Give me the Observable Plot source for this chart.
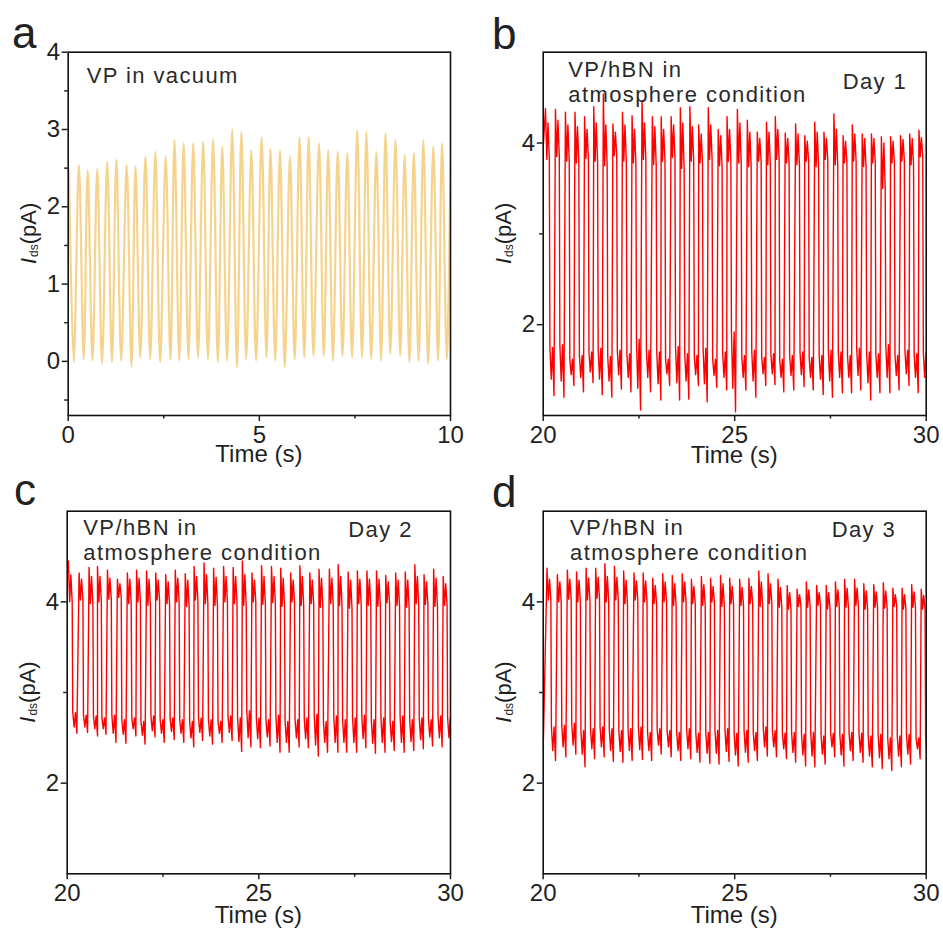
<!DOCTYPE html>
<html>
<head>
<meta charset="utf-8">
<script src="https://cdn.jsdelivr.net/npm/d3@7"></script>
<script src="https://cdn.jsdelivr.net/npm/@observablehq/plot@0.6"></script>
<style>
  html, body { margin: 0; padding: 0; background: #fff; }
  #root { position: relative; width: 943px; height: 928px; overflow: hidden; background: #fff; }
  .panel { position: absolute; }
</style>
</head>
<body>
<div id="root"></div>
<script>
// ---------- Panel a : VP in vacuum (per-cycle peak times, peaks, troughs) ----------
const aTime = [0.02, 0.28, 0.51, 0.76, 1.02, 1.26, 1.53, 1.76, 2.02, 2.28, 2.55, 2.78, 3.02, 3.27, 3.53, 3.79, 4.03, 4.29, 4.53, 4.79, 5.06, 5.29, 5.54, 5.80, 6.05, 6.29, 6.56, 6.80, 7.05, 7.30, 7.56, 7.80, 8.06, 8.30, 8.56, 8.80, 9.04, 9.29, 9.55, 9.78, 10.03];
const aPeak = [2.47, 2.54, 2.47, 2.49, 2.58, 2.61, 2.54, 2.52, 2.65, 2.71, 2.65, 2.86, 2.82, 2.82, 2.84, 2.87, 2.78, 3.00, 2.97, 2.73, 2.90, 2.75, 2.73, 2.65, 2.90, 2.90, 2.82, 2.73, 2.71, 2.69, 2.99, 2.97, 2.71, 2.95, 2.86, 2.67, 2.69, 2.86, 2.78, 2.82, 2.78];
const aTrough = [-0.01, 0.03, 0.01, -0.03, -0.01, 0.01, -0.07, 0.05, 0.03, -0.01, 0.02, 0.01, 0.03, 0.05, 0.03, -0.01, 0.01, -0.08, 0.03, 0.01, 0.05, 0.01, -0.07, 0.03, 0.05, 0.07, 0.07, 0.01, 0.07, 0.05, 0.05, 0.03, 0.01, 0.10, 0.07, -0.01, 0.01, -0.03, 0.01, 0.03, 0.05];

// ---------- Panel b : Day 1 ----------
const bLead = [20.0, 3.95];
const bTime = [20.06, 20.32, 20.58, 20.83, 21.08, 21.32, 21.57, 21.82, 22.07, 22.32, 22.58, 22.85, 23.08, 23.34, 23.58, 23.83, 24.06, 24.31, 24.57, 24.80, 25.07, 25.33, 25.59, 25.83, 26.06, 26.32, 26.59, 26.83, 27.09, 27.33, 27.59, 27.83, 28.07, 28.33, 28.57, 28.83, 29.07, 29.33, 29.57, 29.81];
const bPeak = [4.38, 4.37, 4.34, 4.34, 4.29, 4.40, 4.54, 4.21, 4.34, 4.30, 4.47, 4.29, 4.29, 4.29, 4.39, 4.40, 4.20, 4.39, 4.15, 4.29, 4.37, 4.25, 4.12, 4.23, 4.29, 4.11, 4.21, 4.08, 4.23, 4.12, 4.32, 4.08, 4.20, 4.10, 4.10, 4.07, 4.07, 4.08, 4.10, 4.14];
const bHiEnd = [3.82, 3.85, 3.80, 3.78, 3.83, 3.80, 3.75, 3.86, 3.80, 3.78, 3.82, 3.76, 3.80, 3.84, 3.72, 3.80, 3.78, 3.82, 3.75, 3.80, 3.78, 3.74, 3.80, 3.76, 3.82, 3.78, 3.76, 3.80, 3.74, 3.82, 3.76, 3.78, 3.80, 3.74, 3.78, 3.50, 3.78, 3.80, 3.76, 3.85];
const bHiRe = [4.22, 4.25, 4.20, 4.18, 4.15, 4.22, 4.20, 4.12, 4.20, 4.15, 4.22, 4.18, 4.15, 4.20, 4.22, 4.18, 4.10, 4.20, 4.08, 4.15, 4.22, 4.12, 4.05, 4.12, 4.15, 4.05, 4.10, 4.02, 4.12, 4.05, 4.15, 4.02, 4.10, 4.05, 4.05, 4.00, 4.02, 4.04, 4.05, 4.06];
const bLoTop = [1.75, 1.78, 1.62, 1.66, 1.70, 1.74, 1.65, 1.72, 1.68, 1.84, 1.72, 1.70, 1.62, 1.76, 1.68, 1.66, 1.74, 1.62, 1.70, 1.92, 1.66, 1.72, 1.64, 1.68, 1.62, 1.66, 1.70, 1.64, 1.66, 1.72, 1.70, 1.66, 1.74, 1.70, 1.68, 1.78, 1.66, 1.72, 1.68, 1.70];
const bLoRe = [1.40, 1.38, 1.45, 1.42, 1.48, 1.40, 1.38, 1.45, 1.42, 1.30, 1.42, 1.35, 1.46, 1.36, 1.38, 1.45, 1.35, 1.44, 1.42, 1.30, 1.42, 1.38, 1.46, 1.46, 1.42, 1.44, 1.45, 1.42, 1.40, 1.38, 1.42, 1.42, 1.44, 1.36, 1.42, 1.42, 1.44, 1.46, 1.42, 1.42];
const bTrough = [1.22, 1.20, 1.33, 1.26, 1.36, 1.23, 1.20, 1.29, 1.26, 1.06, 1.26, 1.17, 1.33, 1.17, 1.18, 1.33, 1.15, 1.31, 1.28, 1.04, 1.28, 1.20, 1.33, 1.34, 1.26, 1.28, 1.32, 1.28, 1.23, 1.20, 1.25, 1.25, 1.28, 1.17, 1.25, 1.25, 1.28, 1.33, 1.25, 1.25];

// ---------- Panel c : Day 2 ----------
const cLead = [20.0, 4.40];
const cTime = [20.03, 20.31, 20.57, 20.79, 21.05, 21.31, 21.57, 21.81, 22.07, 22.31, 22.57, 22.82, 23.08, 23.31, 23.57, 23.82, 24.08, 24.33, 24.57, 24.82, 25.07, 25.33, 25.57, 25.83, 26.07, 26.33, 26.57, 26.84, 27.07, 27.33, 27.57, 27.82, 28.07, 28.31, 28.57, 28.82, 29.07, 29.31, 29.56, 29.81];
const cPeak = [4.45, 4.32, 4.38, 4.39, 4.35, 4.25, 4.32, 4.35, 4.34, 4.32, 4.30, 4.35, 4.31, 4.39, 4.43, 4.37, 4.39, 4.38, 4.45, 4.32, 4.40, 4.39, 4.37, 4.32, 4.40, 4.32, 4.36, 4.36, 4.41, 4.33, 4.34, 4.34, 4.34, 4.29, 4.32, 4.33, 4.41, 4.30, 4.36, 4.28];
const cHiEnd = [4.00, 4.02, 3.98, 4.00, 4.03, 4.05, 3.98, 4.00, 3.96, 4.02, 3.98, 4.00, 3.95, 4.02, 3.98, 3.96, 4.00, 3.98, 3.96, 4.00, 3.97, 3.99, 3.95, 4.00, 3.96, 3.98, 3.94, 3.98, 3.96, 3.93, 3.98, 3.96, 3.95, 3.99, 3.96, 3.94, 3.98, 3.97, 3.95, 3.96];
const cHiRe = [4.30, 4.25, 4.28, 4.28, 4.26, 4.20, 4.25, 4.26, 4.25, 4.24, 4.22, 4.26, 4.24, 4.28, 4.30, 4.27, 4.28, 4.28, 4.30, 4.24, 4.28, 4.28, 4.26, 4.24, 4.28, 4.24, 4.26, 4.26, 4.28, 4.24, 4.25, 4.25, 4.25, 4.22, 4.24, 4.24, 4.28, 4.22, 4.26, 4.20];
const cLoTop = [2.78, 2.75, 2.74, 2.72, 2.75, 2.70, 2.72, 2.68, 2.74, 2.70, 2.72, 2.70, 2.68, 2.72, 2.70, 2.68, 2.74, 2.72, 2.80, 2.72, 2.70, 2.75, 2.68, 2.70, 2.72, 2.76, 2.68, 2.74, 2.70, 2.72, 2.75, 2.70, 2.72, 2.68, 2.74, 2.70, 2.72, 2.70, 2.74, 2.72];
const cLoRe = [2.62, 2.62, 2.60, 2.60, 2.55, 2.54, 2.60, 2.53, 2.58, 2.55, 2.57, 2.55, 2.50, 2.56, 2.52, 2.55, 2.56, 2.46, 2.50, 2.49, 2.51, 2.45, 2.45, 2.50, 2.49, 2.42, 2.45, 2.45, 2.45, 2.45, 2.49, 2.44, 2.45, 2.46, 2.45, 2.46, 2.48, 2.51, 2.50, 2.50];
const cTrough = [2.55, 2.56, 2.52, 2.54, 2.45, 2.44, 2.52, 2.43, 2.51, 2.45, 2.48, 2.45, 2.40, 2.47, 2.43, 2.45, 2.47, 2.35, 2.40, 2.39, 2.41, 2.34, 2.34, 2.40, 2.39, 2.30, 2.34, 2.34, 2.34, 2.34, 2.39, 2.33, 2.34, 2.36, 2.34, 2.36, 2.38, 2.41, 2.40, 2.40];

// ---------- Panel d : Day 3 ----------
const dLead = [20.0, 2.38];
const dTime = [20.10, 20.37, 20.63, 20.87, 21.12, 21.37, 21.61, 21.86, 22.10, 22.37, 22.61, 22.86, 23.12, 23.37, 23.63, 23.87, 24.13, 24.37, 24.63, 24.87, 25.13, 25.37, 25.63, 25.87, 26.13, 26.37, 26.63, 26.87, 27.14, 27.39, 27.63, 27.87, 28.13, 28.37, 28.63, 28.88, 29.13, 29.37, 29.62, 29.87];
const dPeak = [4.37, 4.30, 4.35, 4.33, 4.37, 4.37, 4.42, 4.39, 4.34, 4.32, 4.32, 4.26, 4.31, 4.29, 4.31, 4.25, 4.28, 4.26, 4.29, 4.26, 4.25, 4.26, 4.34, 4.31, 4.25, 4.18, 4.14, 4.22, 4.18, 4.18, 4.22, 4.25, 4.25, 4.20, 4.19, 4.21, 4.15, 4.15, 4.19, 4.14];
const dHiEnd = [4.02, 4.00, 4.03, 4.00, 4.02, 4.04, 4.00, 4.02, 3.98, 4.02, 4.00, 3.98, 4.00, 3.96, 4.00, 3.98, 3.96, 4.00, 3.95, 3.98, 3.96, 3.98, 3.95, 3.98, 3.94, 3.92, 3.95, 3.94, 3.96, 3.92, 3.95, 3.94, 3.96, 3.92, 3.94, 3.93, 3.95, 3.92, 3.94, 3.92];
const dHiRe = [4.25, 4.22, 4.25, 4.24, 4.26, 4.27, 4.28, 4.27, 4.24, 4.23, 4.23, 4.18, 4.22, 4.20, 4.22, 4.17, 4.19, 4.17, 4.20, 4.17, 4.16, 4.17, 4.22, 4.20, 4.16, 4.10, 4.08, 4.13, 4.10, 4.10, 4.13, 4.15, 4.15, 4.12, 4.11, 4.12, 4.08, 4.08, 4.11, 4.07];
const dLoTop = [2.62, 2.64, 2.66, 2.58, 2.60, 2.62, 2.60, 2.58, 2.60, 2.62, 2.56, 2.60, 2.58, 2.56, 2.60, 2.55, 2.56, 2.58, 2.60, 2.55, 2.58, 2.56, 2.62, 2.58, 2.55, 2.56, 2.54, 2.56, 2.52, 2.55, 2.54, 2.56, 2.55, 2.52, 2.54, 2.50, 2.52, 2.54, 2.50, 2.52];
const dLoRe = [2.36, 2.40, 2.42, 2.32, 2.38, 2.40, 2.36, 2.35, 2.36, 2.37, 2.36, 2.42, 2.40, 2.36, 2.38, 2.34, 2.33, 2.33, 2.35, 2.31, 2.34, 2.36, 2.40, 2.40, 2.38, 2.34, 2.31, 2.30, 2.32, 2.40, 2.31, 2.36, 2.34, 2.30, 2.28, 2.27, 2.30, 2.32, 2.38, 2.25];
const dTrough = [2.25, 2.29, 2.32, 2.18, 2.27, 2.29, 2.24, 2.23, 2.25, 2.26, 2.25, 2.32, 2.29, 2.25, 2.27, 2.23, 2.22, 2.21, 2.24, 2.19, 2.23, 2.25, 2.30, 2.29, 2.27, 2.23, 2.19, 2.18, 2.21, 2.29, 2.19, 2.25, 2.23, 2.18, 2.16, 2.14, 2.18, 2.21, 2.27, 2.12];

// ---------- Axis ticks & labels ----------
const aXMajor = [0, 5, 10], aXMinor = [2.5, 7.5];
const aYMajor = [0, 1, 2, 3, 4], aYMinor = [-0.5, 0.5, 1.5, 2.5, 3.5];
const dayXMajor = [20, 25, 30], dayXMinor = [22.5, 27.5];
const dayYMajor = [2, 4], dayYMinor = [3];
const xTitle = "Time (s)";

// ---------- build line rows from per-cycle readings ----------
function vacuumRows(times, peak, trough) {
  const rows = [];
  times.forEach((t, i) => {
    rows.push({t: t, v: peak[i]});
    rows.push({t: t + 0.125, v: trough[i]});
  });
  return rows;
}
function cycleRows(lead, times, peak, hiEnd, hiRe, loTop, loRe, trough) {
  const rows = [{t: lead[0], v: lead[1]}];
  times.forEach((t, i) => {
    rows.push({t: t, v: peak[i]});
    rows.push({t: t + 0.035, v: hiEnd[i]});
    rows.push({t: t + 0.065, v: hiRe[i]});
    rows.push({t: t + 0.10, v: hiEnd[i]});
    rows.push({t: t + 0.115, v: loTop[i]});
    rows.push({t: t + 0.15, v: loRe[i]});
    rows.push({t: t + 0.185, v: loTop[i]});
    rows.push({t: t + 0.222, v: trough[i]});
  });
  return rows;
}

const FONT = "'Liberation Sans', Arial, Helvetica, sans-serif";
const INK = "#1f1f1f";

function makePanel(cfg) {
  const ax = {fontSize: 24, strokeWidth: 1.5, label: null};
  const svg = Plot.plot({
    width: cfg.w, height: cfg.h,
    marginLeft: cfg.ml, marginRight: cfg.mr, marginTop: cfg.mt, marginBottom: cfg.mb,
    x: {domain: cfg.xd},
    y: {domain: cfg.yd},
    style: {fontFamily: FONT, fontSize: "24px", color: INK, background: "transparent", overflow: "visible"},
    marks: [
      Plot.line(cfg.rows, {x: "t", y: "v", stroke: cfg.stroke, strokeWidth: cfg.sw, strokeOpacity: cfg.so, curve: cfg.curve, clip: true}),
      Plot.frame({stroke: "#111", strokeWidth: 1.6}),
      Plot.axisX(cfg.xMajor, {...ax, tickSize: 6, tickPadding: 4, tickFormat: d => String(d)}),
      Plot.axisX(cfg.xMinor, {...ax, tickSize: 3.5, tickFormat: () => ""}),
      Plot.axisY(cfg.yMajor, {...ax, tickSize: 6, tickPadding: 2, tickFormat: d => String(d)}),
      Plot.axisY(cfg.yMinor, {...ax, tickSize: 3.5, tickFormat: () => ""})
    ]
  });
  const div = document.createElement("div");
  div.className = "panel";
  div.style.left = cfg.left + "px";
  div.style.top = cfg.top + "px";
  div.appendChild(svg);
  document.getElementById("root").appendChild(div);

  const s = d3.select(svg);
  const txt = (x, y, str, size, extra = {}) => {
    const t = s.append("text").attr("x", x).attr("y", y).attr("font-family", FONT)
      .attr("font-size", size).attr("fill", extra.fill || INK)
      .attr("text-anchor", extra.anchor || "start").text(str);
    if (extra.ls) t.attr("letter-spacing", extra.ls);
    return t;
  };
  // panel letter
  txt(cfg.letter[1], cfg.letter[2], cfg.letter[0], 44, {fill: "#222"});
  // annotations
  cfg.notes.forEach(n => txt(n[1], n[2], n[0], 22, {ls: "1.4px", fill: "#2a2a2a"}));
  // x title
  const plotCx = cfg.ml + (cfg.w - cfg.ml - cfg.mr) / 2;
  const plotCy = cfg.mt + (cfg.h - cfg.mt - cfg.mb) / 2;
  txt(plotCx, cfg.h - cfg.mb + cfg.xTitleDy, xTitle, 24, {anchor: "middle"});
  // y title: I_ds (pA)
  const yt = s.append("text")
    .attr("transform", `translate(${cfg.ml - 31.5},${plotCy}) rotate(-90)`)
    .attr("text-anchor", "middle").attr("font-family", FONT).attr("font-size", 22).attr("fill", INK);
  yt.append("tspan").attr("font-style", "italic").text("I");
  yt.append("tspan").attr("font-size", 12).attr("dy", 2).attr("dx", 1).text("ds");
  yt.append("tspan").attr("dy", -2).text("(pA)");
}

makePanel({
  left: 0, top: 0, w: 471, h: 464, ml: 67.7, mr: 21, mt: 51.7, mb: 49,
  xd: [0, 10], yd: [-0.7, 4],
  rows: vacuumRows(aTime, aPeak, aTrough),
  stroke: "#f3c870", sw: 2.2, so: 0.8, curve: "catmull-rom",
  xMajor: aXMajor, xMinor: aXMinor, yMajor: aYMajor, yMinor: aYMinor,
  letter: ["a", 12, 48], xTitleDy: 47,
  notes: [["VP in vacuum", 86.7, 83]]
});
makePanel({
  left: 471, top: 0, w: 472, h: 464, ml: 71.7, mr: 17.3, mt: 51.7, mb: 49,
  xd: [20, 30], yd: [1, 5],
  rows: cycleRows(bLead, bTime, bPeak, bHiEnd, bHiRe, bLoTop, bLoRe, bTrough),
  stroke: "#ff0000", sw: 1.4, so: 1, curve: "linear",
  xMajor: dayXMajor, xMinor: dayXMinor, yMajor: dayYMajor, yMinor: dayYMinor,
  letter: ["b", 21, 49], xTitleDy: 48,
  notes: [["VP/hBN in", 97.3, 77], ["atmosphere condition", 97.3, 101.7], ["Day 1", 371.7, 89.3]]
});
makePanel({
  left: 0, top: 464, w: 471, h: 464, ml: 66.7, mr: 21, mt: 46.7, mb: 54.7,
  xd: [20, 30], yd: [1, 5],
  rows: cycleRows(cLead, cTime, cPeak, cHiEnd, cHiRe, cLoTop, cLoRe, cTrough),
  stroke: "#ff0000", sw: 1.4, so: 1, curve: "linear",
  xMajor: dayXMajor, xMinor: dayXMinor, yMajor: dayYMajor, yMinor: dayYMinor,
  letter: ["c", 14, 41], xTitleDy: 50,
  notes: [["VP/hBN in", 83.3, 71], ["atmosphere condition", 83.3, 96], ["Day 2", 348.3, 72.7]]
});
makePanel({
  left: 471, top: 464, w: 472, h: 464, ml: 71.7, mr: 17.3, mt: 46.7, mb: 54.7,
  xd: [20, 30], yd: [1, 5],
  rows: cycleRows(dLead, dTime, dPeak, dHiEnd, dHiRe, dLoTop, dLoRe, dTrough),
  stroke: "#ff0000", sw: 1.4, so: 1, curve: "linear",
  xMajor: dayXMajor, xMinor: dayXMinor, yMajor: dayYMajor, yMinor: dayYMinor,
  letter: ["d", 21, 43], xTitleDy: 50,
  notes: [["VP/hBN in", 99, 71], ["atmosphere condition", 99, 96], ["Day 3", 360.7, 72.7]]
});
</script>
</body>
</html>
